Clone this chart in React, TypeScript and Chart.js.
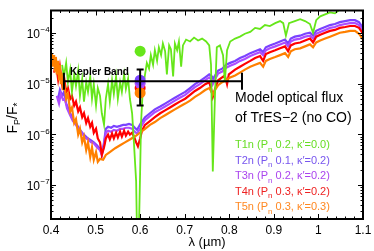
import { useEffect, useRef } from 'react';
import { Chart, registerables } from 'chart.js';

Chart.register(...registerables);

const FONT = '"Liberation Sans", Arial, Helvetica, sans-serif';

// axis ranges
const X_MIN = 0.4;
const X_MAX = 1.1;
const Y_MIN = 2.13e-8;
const Y_MAX = 2.75e-4;

const xTickValues = [0.4, 0.5, 0.6, 0.7, 0.8, 0.9, 1.0, 1.1];
const xTickLabels = ['0.4', '0.5', '0.6', '0.7', '0.8', '0.9', '1', '1.1'];
const yTickValues = [1e-7, 1e-6, 1e-5, 1e-4];
const yTickExponents = ['\u22127', '\u22126', '\u22125', '\u22124'];

// T1n (green)
const t1Wave = [0.425,0.429,0.434,0.438,0.443,0.447,0.452,0.456,0.461,0.465,0.470,0.474,0.479,0.483,0.488,0.492,0.496,0.501,0.505,0.510,0.514,0.519,0.523,0.528,0.532,0.537,0.541,0.546,0.550,0.555,0.559,0.564,0.568,0.573,0.577,0.582,0.586,0.591,0.593,0.597,0.600,0.602,0.606,0.611,0.615,0.620,0.624,0.629,0.633,0.638,0.642,0.647,0.651,0.656,0.660,0.665,0.669,0.674,0.678,0.683,0.687,0.692,0.696,0.703,0.712,0.721,0.730,0.739,0.748,0.755,0.759,0.763,0.768,0.772,0.779,0.786,0.790,0.795,0.802,0.813,0.824,0.835,0.847,0.858,0.869,0.880,0.891,0.903,0.914,0.921,0.927,0.934,0.947,0.959,0.970,0.981,0.988,0.995,1.004,1.015,1.026,1.037,1.048,1.060,1.071,1.082,1.093,1.100];
const t1Flux = [2.34e-5,1.38e-5,2.55e-5,1.06e-5,1.88e-5,6.82e-6,1.51e-5,8.88e-6,1.80e-5,5.71e-6,1.21e-5,4.39e-6,1.06e-5,6.82e-6,1.38e-5,5.01e-6,9.70e-6,3.68e-6,8.13e-6,5.71e-6,2.59e-6,1.53e-6,5.01e-6,9.70e-6,4.39e-6,1.16e-5,6.24e-6,1.38e-5,5.01e-6,1.06e-5,6.82e-6,1.51e-5,7.78e-6,1.26e-5,5.01e-6,2.59e-6,6.91e-7,1.19e-7,1e-8,1e-8,1.85e-7,1.67e-6,7.78e-6,1.51e-5,2.55e-5,1.96e-5,3.63e-5,2.34e-5,4.53e-5,2.79e-5,5.17e-5,3.63e-5,6.16e-5,4.33e-5,1.51e-5,5.64e-5,4.73e-5,1.38e-5,6.16e-5,4.53e-5,6.73e-5,2.14e-5,5.64e-5,7.35e-5,6.73e-5,8.02e-5,7.03e-5,7.68e-5,6.73e-5,5.64e-5,2.34e-5,1.85e-7,6.24e-6,5.17e-5,5.64e-5,3.63e-5,1.06e-5,4.53e-5,6.73e-5,7.68e-5,8.39e-5,9.57e-5,1.04e-4,1.25e-4,1.19e-4,1.42e-4,1.36e-4,1.55e-4,1.70e-4,1.55e-4,8.77e-5,1.55e-4,1.70e-4,1.85e-4,1.70e-4,1.49e-4,1.00e-4,1.77e-4,2.11e-4,2.31e-4,2.52e-4,2.41e-4,2.88e-4,3.01e-4,3.14e-4,3.01e-4,3.28e-4,2.64e-4];

// T2n (blue-violet)
const t2Wave = [0.416,0.420,0.425,0.429,0.434,0.438,0.443,0.449,0.456,0.463,0.470,0.476,0.483,0.490,0.496,0.503,0.510,0.514,0.519,0.523,0.528,0.535,0.541,0.548,0.555,0.562,0.568,0.575,0.582,0.588,0.593,0.597,0.602,0.611,0.622,0.633,0.645,0.656,0.667,0.678,0.689,0.701,0.712,0.723,0.734,0.746,0.755,0.761,0.763,0.768,0.775,0.784,0.793,0.802,0.813,0.824,0.835,0.847,0.858,0.869,0.876,0.882,0.891,0.903,0.914,0.925,0.932,0.938,0.947,0.959,0.970,0.981,0.988,0.995,1.004,1.015,1.026,1.037,1.048,1.060,1.071,1.082,1.091,1.100];
const t2Flux = [5.01e-6,7.44e-6,5.71e-6,6.82e-6,4.02e-6,3.37e-6,2.59e-6,1.99e-6,1.67e-6,1.28e-6,1.07e-6,9.40e-7,8.24e-7,7.55e-7,6.91e-7,6.05e-7,5.08e-7,4.07e-7,6.91e-7,1.28e-6,1.40e-6,1.34e-6,1.46e-6,1.40e-6,1.46e-6,1.53e-6,1.53e-6,1.60e-6,1.53e-6,1.34e-6,1.22e-6,1.40e-6,1.67e-6,2.17e-6,2.59e-6,3.09e-6,3.52e-6,4.02e-6,4.59e-6,5.23e-6,5.97e-6,6.82e-6,8.13e-6,9.70e-6,1.11e-5,1.32e-5,1.51e-5,1.38e-5,1.21e-5,1.44e-5,1.80e-5,1.96e-5,2.34e-5,2.55e-5,2.79e-5,3.18e-5,3.48e-5,3.97e-5,4.33e-5,4.73e-5,4.15e-5,5.17e-5,5.64e-5,6.16e-5,6.73e-5,7.35e-5,6.16e-5,7.68e-5,8.39e-5,8.77e-5,9.57e-5,1.00e-4,8.77e-5,1.09e-4,1.19e-4,1.30e-4,1.42e-4,1.49e-4,1.62e-4,1.70e-4,1.77e-4,1.77e-4,1.62e-4,1.25e-4];

// T3n (purple)
const t3Wave = [0.413,0.418,0.422,0.427,0.431,0.436,0.443,0.449,0.456,0.463,0.470,0.476,0.483,0.490,0.496,0.503,0.510,0.514,0.519,0.523,0.528,0.535,0.541,0.548,0.555,0.562,0.568,0.575,0.582,0.588,0.593,0.597,0.602,0.611,0.622,0.633,0.645,0.656,0.667,0.678,0.689,0.701,0.712,0.723,0.734,0.746,0.755,0.761,0.763,0.768,0.775,0.784,0.793,0.802,0.813,0.824,0.835,0.847,0.858,0.869,0.876,0.882,0.891,0.903,0.914,0.925,0.932,0.938,0.947,0.959,0.970,0.981,0.988,0.995,1.004,1.015,1.026,1.037,1.048,1.060,1.071,1.082,1.091,1.100];
const t3Flux = [5.71e-6,4.02e-6,6.24e-6,4.79e-6,5.01e-6,3.23e-6,2.37e-6,1.82e-6,1.53e-6,1.22e-6,1.03e-6,8.61e-7,7.88e-7,6.91e-7,6.61e-7,5.54e-7,4.86e-7,3.90e-7,6.05e-7,1.07e-6,1.17e-6,1.12e-6,1.22e-6,1.17e-6,1.28e-6,1.28e-6,1.34e-6,1.34e-6,1.28e-6,1.12e-6,1.03e-6,1.17e-6,1.40e-6,1.90e-6,2.27e-6,2.71e-6,3.09e-6,3.52e-6,4.02e-6,4.59e-6,5.23e-6,5.97e-6,7.12e-6,8.49e-6,9.70e-6,1.16e-5,1.32e-5,1.16e-5,9.70e-6,1.21e-5,1.57e-5,1.72e-5,2.05e-5,2.24e-5,2.44e-5,2.79e-5,3.05e-5,3.48e-5,3.80e-5,4.15e-5,3.63e-5,4.53e-5,4.94e-5,5.40e-5,5.90e-5,6.44e-5,5.40e-5,6.73e-5,7.35e-5,7.68e-5,8.39e-5,8.77e-5,7.68e-5,9.57e-5,1.04e-4,1.14e-4,1.25e-4,1.30e-4,1.42e-4,1.49e-4,1.55e-4,1.55e-4,1.42e-4,1.09e-4];

// T4n (red)
const t4Wave = [0.407,0.411,0.416,0.420,0.425,0.429,0.434,0.438,0.443,0.447,0.452,0.456,0.461,0.465,0.470,0.474,0.479,0.483,0.488,0.492,0.496,0.501,0.505,0.510,0.514,0.519,0.523,0.528,0.532,0.537,0.541,0.546,0.550,0.555,0.559,0.564,0.568,0.573,0.577,0.582,0.586,0.591,0.595,0.600,0.604,0.611,0.622,0.633,0.645,0.656,0.667,0.678,0.689,0.701,0.712,0.723,0.734,0.746,0.755,0.759,0.763,0.768,0.775,0.784,0.790,0.795,0.799,0.813,0.824,0.835,0.847,0.858,0.869,0.876,0.882,0.891,0.903,0.914,0.925,0.932,0.938,0.947,0.959,0.970,0.981,0.988,0.995,1.004,1.015,1.026,1.037,1.048,1.060,1.071,1.082,1.091,1.100];
const t4Flux = [1.64e-5,2.55e-5,1.21e-5,2.14e-5,9.70e-6,1.38e-5,6.82e-6,8.13e-6,5.01e-6,5.71e-6,3.68e-6,4.39e-6,2.83e-6,3.37e-6,2.17e-6,2.59e-6,1.67e-6,2.08e-6,1.40e-6,1.67e-6,1.07e-6,1.28e-6,8.24e-7,6.91e-7,3.90e-7,5.54e-7,8.24e-7,9.83e-7,7.88e-7,1.03e-6,8.24e-7,1.07e-6,8.61e-7,1.12e-6,9.00e-7,1.17e-6,9.40e-7,1.12e-6,9.83e-7,1.07e-6,9.00e-7,6.91e-7,5.79e-7,8.24e-7,1.17e-6,1.53e-6,1.82e-6,2.17e-6,2.59e-6,2.95e-6,3.37e-6,3.85e-6,4.39e-6,5.01e-6,5.97e-6,7.12e-6,8.13e-6,9.70e-6,1.06e-5,8.13e-6,5.47e-6,7.78e-6,1.16e-5,1.32e-5,1.44e-5,9.70e-6,1.51e-5,1.88e-5,2.14e-5,2.44e-5,2.79e-5,3.18e-5,3.48e-5,2.79e-5,3.80e-5,4.15e-5,4.53e-5,4.94e-5,5.40e-5,4.33e-5,5.64e-5,6.16e-5,6.44e-5,7.03e-5,7.68e-5,6.44e-5,8.39e-5,9.16e-5,1.00e-4,1.09e-4,1.14e-4,1.25e-4,1.30e-4,1.36e-4,1.36e-4,1.25e-4,9.57e-5];

// T5n (orange)
const t5Wave = [0.400,0.402,0.404,0.407,0.409,0.411,0.413,0.416,0.418,0.420,0.422,0.425,0.427,0.429,0.434,0.438,0.443,0.447,0.452,0.456,0.461,0.465,0.470,0.474,0.479,0.483,0.488,0.492,0.496,0.501,0.505,0.510,0.517,0.523,0.532,0.544,0.555,0.566,0.577,0.588,0.600,0.611,0.622,0.633,0.645,0.656,0.667,0.678,0.689,0.701,0.712,0.723,0.734,0.746,0.755,0.759,0.763,0.768,0.775,0.784,0.793,0.802,0.813,0.824,0.835,0.847,0.858,0.869,0.876,0.882,0.891,0.903,0.914,0.925,0.932,0.938,0.947,0.959,0.970,0.981,0.988,0.995,1.004,1.015,1.026,1.037,1.048,1.060,1.071,1.082,1.091,1.100];
const t5Flux = [2.92e-5,3.97e-5,2.14e-5,3.63e-5,1.80e-5,3.33e-5,1.51e-5,2.79e-5,1.21e-5,2.34e-5,9.70e-6,1.64e-5,7.78e-6,1.06e-5,5.01e-6,6.24e-6,2.83e-6,3.37e-6,1.67e-6,1.99e-6,9.83e-7,1.28e-6,6.91e-7,9.00e-7,4.86e-7,6.91e-7,3.57e-7,5.54e-7,3.13e-7,4.45e-7,2.86e-7,3.27e-7,3.13e-7,3.90e-7,4.45e-7,5.30e-7,6.05e-7,6.91e-7,7.88e-7,9.00e-7,1.07e-6,1.28e-6,1.53e-6,1.74e-6,2.08e-6,2.37e-6,2.71e-6,3.09e-6,3.52e-6,4.02e-6,4.59e-6,5.47e-6,6.24e-6,7.44e-6,8.13e-6,7.12e-6,5.97e-6,7.44e-6,9.28e-6,1.06e-5,1.16e-5,1.32e-5,1.44e-5,1.64e-5,1.88e-5,2.14e-5,2.34e-5,2.55e-5,2.14e-5,2.79e-5,3.05e-5,3.33e-5,3.63e-5,3.97e-5,3.33e-5,4.33e-5,4.73e-5,4.94e-5,5.40e-5,5.90e-5,5.17e-5,6.44e-5,7.03e-5,7.68e-5,8.39e-5,9.16e-5,1.00e-4,1.04e-4,1.09e-4,1.09e-4,9.57e-5,7.35e-5];

// band-integrated model points at 0.6 um (T1n..T5n)
const bandWave = 0.6;
const bandFlux = [4.33e-5, 1.16e-5, 1.01e-5, 8.13e-6, 6.52e-6];

// Kepler band bar
const keplerStart = 0.429;
const keplerEnd = 0.8285;
const keplerFlux = 1.11e-5;

// observed error bar
const obsWave = 0.6;
const obsHigh = 1.88e-5;
const obsLow = 3.68e-6;

// legend
const seriesNames = ['T1n', 'T2n', 'T3n', 'T4n', 'T5n'];
const seriesP = ['0.2', '0.1', '0.2', '0.3', '0.3'];
const seriesKappa = ['0.0', '0.2', '0.2', '0.2', '0.3'];
const seriesColors = ['#66e61a', '#7a42ff', '#ad4cff', '#ff0000', '#ff8000'];
const legendColors = ['#66dd22', '#7755ee', '#aa44ee', '#ee2222', '#ff8822'];

type Pt = { x: number; y: number };
const zip = (xs: number[], ys: number[]): Pt[] => xs.map((x, i) => ({ x, y: ys[i] }));

type Run = { t: string; size: number; dy: number; bold?: boolean };

function drawRuns(ctx: CanvasRenderingContext2D, runs: Run[], x: number, y: number, align: 'left' | 'center') {
  let total = 0;
  for (const r of runs) {
    ctx.font = `${r.bold ? 'bold ' : ''}${r.size}px ${FONT}`;
    total += ctx.measureText(r.t).width;
  }
  let cx = align === 'center' ? x - total / 2 : x;
  ctx.textAlign = 'left';
  ctx.textBaseline = 'alphabetic';
  for (const r of runs) {
    ctx.font = `${r.bold ? 'bold ' : ''}${r.size}px ${FONT}`;
    ctx.fillText(r.t, cx, y + r.dy);
    cx += ctx.measureText(r.t).width;
  }
}

const decorPlugin = {
  id: 'decor',
  afterDraw(chart: any) {
    const ctx: CanvasRenderingContext2D = chart.ctx;
    const { left, right, top, bottom } = chart.chartArea;
    const xs = chart.scales.x;
    const ys = chart.scales.y;
    ctx.save();
    ctx.strokeStyle = '#000';
    ctx.fillStyle = '#000';

    // ticks (inward, on all four sides)
    ctx.lineWidth = 1;
    ctx.beginPath();
    for (let i = 0; i <= 35; i++) {
      const v = X_MIN + i * 0.02;
      const px = Math.round(xs.getPixelForValue(v)) + 0.5;
      const major = i % 5 === 0;
      const len = major ? 5 : 2.5;
      ctx.moveTo(px, bottom);
      ctx.lineTo(px, bottom - len);
      ctx.moveTo(px, top);
      ctx.lineTo(px, top + len);
    }
    for (let e = -8; e <= -4; e++) {
      for (let m = 1; m <= 9; m++) {
        const v = m * Math.pow(10, e);
        if (v < Y_MIN || v > Y_MAX) continue;
        const py = Math.round(ys.getPixelForValue(v)) + 0.5;
        const len = m === 1 ? 5 : 2.5;
        ctx.moveTo(left, py);
        ctx.lineTo(left + len, py);
        ctx.moveTo(right, py);
        ctx.lineTo(right - len, py);
      }
    }
    ctx.stroke();

    // frame
    ctx.lineWidth = 2;
    ctx.strokeRect(left, top, right - left, bottom - top);

    // x tick labels
    ctx.font = `12px ${FONT}`;
    ctx.textAlign = 'center';
    ctx.textBaseline = 'alphabetic';
    xTickValues.forEach((v, i) => {
      ctx.fillText(xTickLabels[i], xs.getPixelForValue(v), 234);
    });

    // y tick labels 10^n
    yTickValues.forEach((v, i) => {
      const py = ys.getPixelForValue(v);
      ctx.font = `12px ${FONT}`;
      ctx.textAlign = 'right';
      ctx.fillText('10', 40, py + 5.5);
      ctx.font = `8px ${FONT}`;
      ctx.textAlign = 'left';
      ctx.fillText(yTickExponents[i], 40.5, py - 0.5);
    });

    // x axis title
    ctx.font = `13px ${FONT}`;
    ctx.textAlign = 'center';
    ctx.fillText('\u03bb (\u00b5m)', (left + right) / 2, 246);

    // y axis title (rotated)
    ctx.save();
    ctx.translate(17, 118);
    ctx.rotate(-Math.PI / 2);
    drawRuns(ctx, [
      { t: 'F', size: 14, dy: 0 },
      { t: 'P', size: 9, dy: 3 },
      { t: '/F', size: 14, dy: 0 },
      { t: '*', size: 10, dy: 4 },
    ], 0, 0, 'center');
    ctx.restore();

    // Kepler Band label
    ctx.fillStyle = '#000';
    drawRuns(ctx, [{ t: 'Kepler Band', size: 10, dy: 0, bold: true }], 70, 74.5, 'left');

    // model annotation
    drawRuns(ctx, [{ t: 'Model optical flux', size: 14, dy: 0 }], 235, 101.5, 'left');
    drawRuns(ctx, [{ t: 'of TrES\u22122 (no CO)', size: 14, dy: 0 }], 235, 121.5, 'left');

    // legend
    seriesNames.forEach((name, i) => {
      ctx.fillStyle = legendColors[i];
      const y = 148 + i * 15.6;
      drawRuns(ctx, [
        { t: `${name} (P`, size: 11, dy: 0 },
        { t: 'n', size: 8, dy: 3.5 },
        { t: ` ${seriesP[i]}, \u03ba\u2032=${seriesKappa[i]})`, size: 11, dy: 0 },
      ], 235, y, 'left');
    });

    ctx.restore();
  },
};

export default function App() {
  const ref = useRef<HTMLCanvasElement>(null);

  useEffect(() => {
    const canvas = ref.current;
    if (!canvas) return;

    const curve = (wave: number[], flux: number[], color: string, order: number, width: number) => ({
      type: 'line' as const,
      data: zip(wave, flux),
      borderColor: color,
      backgroundColor: color,
      borderWidth: width,
      pointRadius: 0,
      tension: 0,
      order,
    });

    const dot = (idx: number, order: number) => ({
      type: 'line' as const,
      data: [{ x: bandWave, y: bandFlux[idx] }],
      showLine: false,
      pointRadius: 5.5,
      pointBorderWidth: 0,
      pointBackgroundColor: seriesColors[idx],
      pointBorderColor: seriesColors[idx],
      borderColor: seriesColors[idx],
      order,
    });

    const chart = new Chart(canvas, {
      type: 'line',
      data: {
        datasets: [
          curve(t2Wave, t2Flux, seriesColors[1], 14, 2.2),
          curve(t3Wave, t3Flux, seriesColors[2], 13, 2.2),
          curve(t4Wave, t4Flux, seriesColors[3], 12, 2.2),
          curve(t5Wave, t5Flux, seriesColors[4], 11, 2.2),
          curve(t1Wave, t1Flux, seriesColors[0], 10, 1.8),
          dot(3, 6),
          dot(2, 5),
          dot(4, 4),
          dot(1, 3),
          dot(0, 3),
          {
            type: 'line' as const,
            data: [{ x: keplerStart, y: keplerFlux }, { x: keplerEnd, y: keplerFlux }],
            borderColor: '#000',
            borderWidth: 2,
            pointStyle: 'line',
            pointRotation: 90,
            pointRadius: 8.5,
            pointBorderWidth: 2,
            pointBorderColor: '#000',
            order: 1,
          },
          {
            type: 'line' as const,
            data: [{ x: obsWave, y: obsHigh }, { x: obsWave, y: obsLow }],
            borderColor: '#000',
            borderWidth: 2,
            pointStyle: 'line',
            pointRotation: 0,
            pointRadius: 3.5,
            pointBorderWidth: 2,
            pointBorderColor: '#000',
            order: 0,
          },
        ] as any,
      },
      options: {
        animation: false,
        responsive: false,
        maintainAspectRatio: false,
        events: [],
        layout: { padding: { left: 51, right: 11, top: 4, bottom: 32 } },
        scales: {
          x: { type: 'linear', min: X_MIN, max: X_MAX, display: false },
          y: { type: 'logarithmic', min: Y_MIN, max: Y_MAX, display: false },
        },
        plugins: {
          legend: { display: false },
          tooltip: { enabled: false },
        },
      },
      plugins: [decorPlugin],
    });

    return () => chart.destroy();
  }, []);

  return (
    <div style={{ position: 'absolute', left: 0, top: 0, width: 374, height: 251, background: '#fff' }}>
      <canvas ref={ref} width={374} height={251} style={{ display: 'block', width: 374, height: 251 }} />
    </div>
  );
}
